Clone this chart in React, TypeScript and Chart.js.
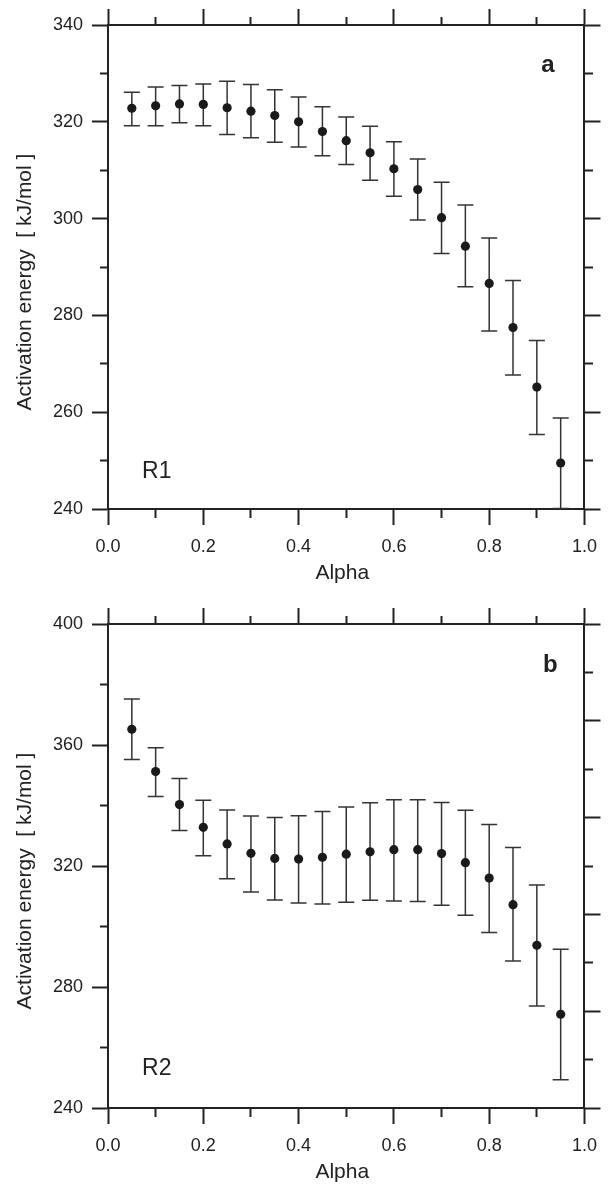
import React, { useEffect, useRef } from 'react';
import { Chart, registerables } from 'chart.js';

Chart.register(...registerables);

// ---------- data ----------
const alpha = [0.05, 0.1, 0.15, 0.2, 0.25, 0.3, 0.35, 0.4, 0.45, 0.5, 0.55, 0.6, 0.65, 0.7, 0.75, 0.8, 0.85, 0.9, 0.95];

const r1Energy = [322.8, 323.3, 323.7, 323.6, 322.9, 322.2, 321.3, 320.0, 318.0, 316.1, 313.6, 310.3, 306.0, 300.2, 294.3, 286.6, 277.5, 265.2, 249.5];
const r1Upper = [326.1, 327.2, 327.5, 327.8, 328.4, 327.7, 326.6, 325.1, 323.1, 321.0, 319.1, 315.9, 312.3, 307.5, 302.8, 296.0, 287.2, 274.8, 258.8];
const r1Lower = [319.2, 319.2, 319.8, 319.2, 317.4, 316.7, 315.8, 314.8, 313.0, 311.2, 307.9, 304.6, 299.7, 292.8, 285.9, 276.8, 267.7, 255.4, 240.1];

const r2Energy = [365.2, 351.2, 340.3, 332.8, 327.3, 324.2, 322.5, 322.3, 322.9, 323.9, 324.7, 325.4, 325.4, 324.1, 321.1, 316.0, 307.2, 293.8, 271.0];
const r2Upper = [375.2, 359.1, 348.9, 341.7, 338.5, 336.5, 336.0, 336.6, 338.0, 339.5, 340.9, 341.9, 341.9, 341.0, 338.4, 333.7, 326.1, 313.7, 292.5];
const r2Lower = [355.2, 343.0, 331.7, 323.4, 315.8, 311.4, 308.8, 307.8, 307.4, 308.0, 308.7, 308.4, 308.3, 307.0, 303.7, 298.0, 288.6, 273.7, 249.3];

const panelLetters = ['a', 'b'];
const reactionNames = ['R1', 'R2'];
const xTitle = 'Alpha';
const yTitle = 'Activation energy  [ kJ/mol ]';

// ---------- style ----------
const FONT = '"Liberation Sans", Arial, Helvetica, sans-serif';
const INK = '#222222';
const BAR = '#333333';
const DOT = '#1a1a1a';

const isMajor = (v: number, step: number) => Math.abs(v / step - Math.round(v / step)) < 1e-6;

// dash for minor ticks; "fromAxis" = tick line starts at the axis line
const tickDash = (step: number, fromAxis: boolean) => (c: any) => {
  const v = c && c.tick ? c.tick.value : 0;
  if (isMajor(v, step)) return [];
  return fromAxis ? [8, 100] : [0, 8, 8, 100];
};

type PanelCfg = {
  energy: number[];
  upper: number[];
  lower: number[];
  letter: string;
  name: string;
  yMin: number;
  yMax: number;
  yStep: number;
  yMajor: number;
  rMin: number;
  rMax: number;
  rStep: number;
  rMajor: number;
  letterPos: [number, number];
  namePos: [number, number];
  height: number;
  topH: number;
  bottomH: number;
};

function buildChart(canvas: HTMLCanvasElement, p: PanelCfg) {
  const bars: any[] = [];
  const caps: any[] = [];
  alpha.forEach((a, i) => {
    bars.push({ x: a, y: p.lower[i] }, { x: a, y: p.upper[i] }, { x: a, y: null });
    caps.push({ x: a, y: p.lower[i] }, { x: a, y: p.upper[i] });
  });
  const dots = alpha.map((a, i) => ({ x: a, y: p.energy[i] }));

  const textPlugin = {
    id: 'panelText',
    afterDatasetsDraw(chart: any) {
      const { ctx, scales, chartArea } = chart;
      ctx.save();
      ctx.fillStyle = INK;
      ctx.textAlign = 'left';
      ctx.textBaseline = 'alphabetic';
      ctx.font = `bold 24px ${FONT}`;
      ctx.fillText(p.letter, scales.x.getPixelForValue(p.letterPos[0]), scales.y.getPixelForValue(p.letterPos[1]));
      ctx.font = `23px ${FONT}`;
      ctx.fillText(p.name, scales.x.getPixelForValue(p.namePos[0]), scales.y.getPixelForValue(p.namePos[1]));

      // axis titles
      ctx.font = `21px ${FONT}`;
      ctx.textAlign = 'center';
      ctx.textBaseline = 'middle';
      const cx = (chartArea.left + chartArea.right) / 2 - 4;
      ctx.fillText(xTitle, cx, chartArea.bottom + 64);
      const cy = (chartArea.top + chartArea.bottom) / 2 + 15;
      ctx.translate(25, cy);
      ctx.rotate(-Math.PI / 2);
      ctx.fillText(yTitle, 0, 0);
      ctx.restore();
    },
  };

  const tickFont = { family: FONT, size: 18 };
  const grid = (step: number, fromAxis: boolean) => ({
    drawOnChartArea: false,
    drawTicks: true,
    tickLength: 16,
    tickWidth: 2,
    tickColor: INK,
    offset: false,
    tickBorderDash: tickDash(step, fromAxis),
  });
  const border = { display: true, color: INK, width: 2 };

  return new Chart(canvas, {
    type: 'scatter',
    data: {
      datasets: [
        {
          data: dots,
          pointRadius: 4.6,
          pointHoverRadius: 4.6,
          pointBackgroundColor: DOT,
          pointBorderWidth: 0,
          showLine: false,
        } as any,
        {
          data: caps,
          pointStyle: 'line',
          pointRadius: 8,
          pointHoverRadius: 8,
          pointBorderColor: BAR,
          pointBorderWidth: 1.5,
          showLine: false,
        } as any,
        {
          data: bars,
          showLine: true,
          spanGaps: false,
          borderColor: BAR,
          borderWidth: 1.5,
          pointRadius: 0,
          pointHoverRadius: 0,
        } as any,
      ],
    },
    options: {
      animation: false,
      responsive: false,
      devicePixelRatio: 1,
      events: [],
      layout: { padding: 0 },
      plugins: { legend: { display: false }, tooltip: { enabled: false } },
      scales: {
        x: {
          type: 'linear',
          position: 'bottom',
          min: 0,
          max: 1,
          offset: false,
          afterFit: (s: any) => { s.height = p.bottomH; },
          border,
          grid: grid(0.2, true),
          ticks: {
            stepSize: 0.1,
            autoSkip: false,
            maxRotation: 0,
            padding: 11,
            color: INK,
            font: tickFont,
            callback: (v: any) => (isMajor(Number(v), 0.2) ? Number(v).toFixed(1) : ''),
          },
          title: { display: false },
        },
        x2: {
          type: 'linear',
          position: 'top',
          min: 0,
          max: 1,
          offset: false,
          afterFit: (s: any) => { s.height = p.topH; },
          border,
          grid: grid(0.2, false),
          ticks: { stepSize: 0.1, autoSkip: false, display: false },
        },
        y: {
          type: 'linear',
          position: 'left',
          min: p.yMin,
          max: p.yMax,
          offset: false,
          afterFit: (s: any) => { s.width = 108; },
          border,
          grid: grid(p.yMajor, false),
          ticks: {
            stepSize: p.yStep,
            autoSkip: false,
            padding: 9,
            color: INK,
            font: tickFont,
            callback: (v: any) => (isMajor(Number(v), p.yMajor) ? String(Math.round(Number(v))) : ''),
          },
          title: { display: false },
        },
        y2: {
          type: 'linear',
          position: 'right',
          min: p.rMin,
          max: p.rMax,
          offset: false,
          afterFit: (s: any) => { s.width = 14; },
          border,
          grid: grid(p.rMajor, true),
          ticks: { stepSize: p.rStep, autoSkip: false, display: false },
        },
      },
    } as any,
    plugins: [textPlugin],
  });
}

const panels: PanelCfg[] = [
  {
    energy: r1Energy, upper: r1Upper, lower: r1Lower,
    letter: panelLetters[0], name: reactionNames[0],
    yMin: 240, yMax: 340, yStep: 10, yMajor: 20,
    rMin: 240, rMax: 340, rStep: 10, rMajor: 20,
    letterPos: [0.909, 330.35], namePos: [0.0714, 246.5],
    height: 595, topH: 25, bottomH: 86,
  },
  {
    energy: r2Energy, upper: r2Upper, lower: r2Lower,
    letter: panelLetters[1], name: reactionNames[1],
    yMin: 240, yMax: 400, yStep: 20, yMajor: 40,
    rMin: 0, rMax: 1, rStep: 0.1, rMajor: 0.2,
    letterPos: [0.913, 384.2], namePos: [0.0714, 250.8],
    height: 590, topH: 29, bottomH: 77,
  },
];

function Panel({ cfg, top }: { cfg: PanelCfg; top: number }) {
  const ref = useRef<HTMLCanvasElement | null>(null);
  useEffect(() => {
    if (!ref.current) return;
    const chart = buildChart(ref.current, cfg);
    return () => chart.destroy();
  }, [cfg]);
  return (
    <canvas
      ref={ref}
      width={608}
      height={cfg.height}
      style={{ position: 'absolute', left: 0, top, width: 608, height: cfg.height, display: 'block' }}
    />
  );
}

export default function App() {
  return (
    <div style={{ position: 'absolute', left: 0, top: 0, width: 608, height: 1185, background: '#ffffff', overflow: 'hidden' }}>
      <Panel cfg={panels[0]} top={0} />
      <Panel cfg={panels[1]} top={panels[0].height} />
    </div>
  );
}
